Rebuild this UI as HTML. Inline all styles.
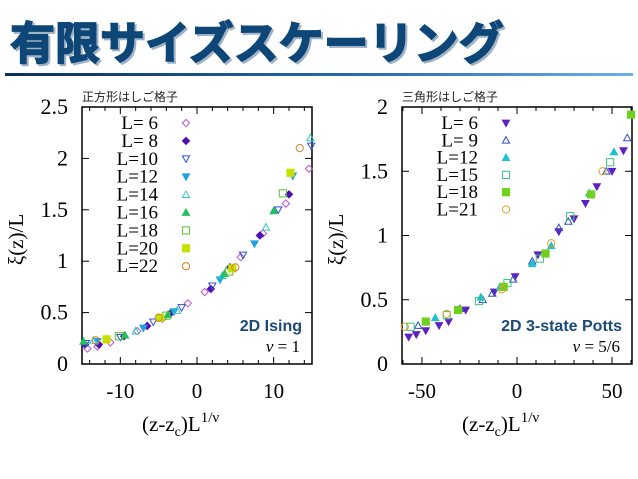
<!DOCTYPE html>
<html><head><meta charset="utf-8"><style>
body{margin:0;background:#fff;width:638px;height:479px;overflow:hidden}
svg{display:block}
</style></head><body>
<svg id="s" width="638" height="479" xmlns="http://www.w3.org/2000/svg">
<defs><linearGradient id="ul" x1="0" x2="1"><stop offset="0" stop-color="#0a2f5c"/><stop offset="0.6" stop-color="#2a70b0"/><stop offset="1" stop-color="#6ab0e8"/></linearGradient></defs>
<text x="12" y="61" font-family="'Liberation Sans','Noto Sans CJK JP',sans-serif" font-weight="bold" font-size="45" fill="#9fb2c6" stroke="#9fb2c6" stroke-width="1.5">有限サイズスケーリング</text>
<text x="10" y="59" font-family="'Liberation Sans','Noto Sans CJK JP',sans-serif" font-weight="bold" font-size="45" fill="#0d4677" stroke="#0d4677" stroke-width="1.5">有限サイズスケーリング</text>
<rect x="5" y="73" width="628" height="3" fill="url(#ul)"/>
</svg>
<script>
// Left chart data (2D Ising)
const leftLabels=["L= 6","L= 8","L=10","L=12","L=14","L=16","L=18","L=20","L=22"];
const L6x=[-14.3,-13,-11.3,-7.8,-4.5,-1.2,1.0,5.7,8.6,11.6,14.6];
const L6y=[0.15,0.17,0.21,0.32,0.44,0.59,0.70,1.04,1.27,1.56,1.9];
const L8x=[-14.6,-12.8,-9.5,-6.5,-3.5,1.8,4.3,8.2,12.0];
const L8y=[0.19,0.19,0.27,0.37,0.49,0.73,0.94,1.25,1.65];
const L10x=[-14.5,-10,-5.7,-2,2,6.0,10.6,14.9];
const L10y=[0.2,0.26,0.41,0.55,0.76,1.06,1.5,2.12];
const L12x=[-13,-7,-3,3,7.5,12.5];
const L12y=[0.22,0.35,0.51,0.82,1.17,1.83];
const L14x=[-13.5,-8,-2.6,3.3,9.0,14.8];
const L14y=[0.23,0.32,0.52,0.86,1.33,2.2];
const L16x=[-14.8,-9.4,-3.8,3.6,10.0];
const L16y=[0.22,0.28,0.48,0.88,1.49];
const L18x=[-10.2,-4.0,4.2,11.2];
const L18y=[0.27,0.47,0.9,1.66];
const L20x=[-11.8,-4.8,4.6,12.2];
const L20y=[0.24,0.45,0.93,1.86];
const L22x=[-13.2,-5.0,5.0,13.4];
const L22y=[0.23,0.45,0.94,2.1];
const leftYTicks=[0,0.5,1,1.5,2,2.5];
const leftXTicks=[-10,0,10];
// Right chart data (2D 3-state Potts)
const rightLabels=["L= 6","L= 9","L=12","L=15","L=18","L=21"];
const P6x=[-57,-53,-48,-41,-36,-27,-12,-1,11,22,30,36,42,50,56];
const P6y=[0.21,0.23,0.26,0.3,0.33,0.42,0.56,0.68,0.85,1.03,1.13,1.25,1.38,1.5,1.66];
const P9x=[-52,-30,-18,-13,-2,8,22,27,47,58];
const P9y=[0.3,0.43,0.5,0.55,0.66,0.8,1.06,1.11,1.5,1.76];
const P12x=[-43,-19,-9,8,18,38,51];
const P12y=[0.36,0.52,0.6,0.78,0.92,1.33,1.65];
const P15x=[-56,-37,-20,-5,12,28,49];
const P15y=[0.29,0.38,0.49,0.63,0.82,1.15,1.57];
const P18x=[-48,-31,-7,15,39,60];
const P18y=[0.33,0.42,0.6,0.86,1.32,1.94];
const P21x=[-59,-37,-8,18,45];
const P21y=[0.29,0.39,0.58,0.94,1.5];
const rightYTicks=[0,0.5,1,1.5,2];
const rightXTicks=[-50,0,50];

const NS="http://www.w3.org/2000/svg";
const svg=document.getElementById('s');
function mk(tag,attrs,parent){const e=document.createElementNS(NS,tag);for(const k in attrs)e.setAttribute(k,attrs[k]);(parent||svg).appendChild(e);return e;}
function marker(g,shape,cx,cy,color){
  const r=3.6;let e;
  const filled=shape.endsWith('F');const base=shape.replace('F','');
  const fill=filled?color:'none';
  if(base==='diamond'){e=mk('polygon',{points:`${cx},${cy-r} ${cx+r},${cy} ${cx},${cy+r} ${cx-r},${cy}`},g);}
  else if(base==='down'){e=mk('polygon',{points:`${cx-r},${cy-r*0.8} ${cx+r},${cy-r*0.8} ${cx},${cy+r}`},g);}
  else if(base==='up'){e=mk('polygon',{points:`${cx-r},${cy+r*0.8} ${cx+r},${cy+r*0.8} ${cx},${cy-r}`},g);}
  else if(base==='square'){e=mk('rect',{x:cx-r,y:cy-r,width:2*r,height:2*r},g);}
  else {e=mk('circle',{cx:cx,cy:cy,r:r},g);}
  e.setAttribute('fill',fill);e.setAttribute('stroke',color);e.setAttribute('stroke-width','1');
  
  
  return e;
}
function chart(cfg){
  const g=mk('g',{});
  
  
  const {x0,x1,y0,y1,xmin,xmax,ymin,ymax}=cfg;
  const sx=v=>x0+(v-xmin)/(xmax-xmin)*(x1-x0);
  const sy=v=>y1-(v-ymin)/(ymax-ymin)*(y1-y0);
  const fr=mk('rect',{x:x0,y:y0,width:x1-x0,height:y1-y0,fill:'none',stroke:'#000','stroke-width':1.5},g);
  
  
  for(let v=Math.ceil(xmin/cfg.minor)*cfg.minor;v<=xmax;v+=cfg.minor){
    const X=sx(v);const major=cfg.xt.includes(v);const L=major?7:4;
    mk('line',{x1:X,x2:X,y1:y1,y2:y1-L,stroke:'#000','stroke-width':1},g);
    mk('line',{x1:X,x2:X,y1:y0,y2:y0+L,stroke:'#000','stroke-width':1},g);
  }
  cfg.xt.forEach(v=>{const t=mk('text',{x:sx(v),y:398,'text-anchor':'middle','font-family':'Liberation Serif,serif','font-size':21},g);t.textContent=v;
    
    });
  cfg.yt.forEach(v=>{const Y=sy(v);
    mk('line',{x1:x0,x2:x0+7,y1:Y,y2:Y,stroke:'#000','stroke-width':1},g);
    mk('line',{x1:x1,x2:x1-7,y1:Y,y2:Y,stroke:'#000','stroke-width':1},g);
    const t=mk('text',{x:x0-14,y:Y+7,'text-anchor':'end','font-family':'Liberation Serif,serif','font-size':22},g);t.textContent=v;
    
    });
  const yt=mk('text',{x:0,y:0,transform:`translate(${x0-59},${(y0+y1)/2+4}) rotate(-90)`,'text-anchor':'middle','font-family':'Liberation Serif,serif','font-size':21},g);
  yt.textContent='ξ(z)/L';
  
  
  const xt=mk('text',{x:(x0+x1)/2-55,y:431,'font-family':'Liberation Serif,serif','font-size':21},g);
  xt.innerHTML='(z-z<tspan dy="5" font-size="14">c</tspan><tspan dy="-5">)L</tspan><tspan dy="-9" font-size="15">1/ν</tspan>';
  
  
  const sub=mk('text',{x:x0,y:101,'font-family':"'Liberation Sans','Noto Sans CJK JP',sans-serif",'font-size':12,fill:'#222'},g);
  sub.textContent=cfg.sub;
  
  
  const mt=mk('text',{x:x1-10,y:y1-33,'text-anchor':'end','font-family':'Liberation Sans,sans-serif','font-weight':'bold','font-size':16,fill:'#1b4a78'},g);
  mt.textContent=cfg.model;
  
  
  const nu=mk('text',{x:x1-12,y:y1-12,'text-anchor':'end','font-family':'Liberation Serif,serif','font-size':17},g);
  nu.innerHTML=cfg.nu;
  
  
  cfg.series.forEach((s,i)=>{
    const sg=mk('g',{},g);
    
    
    s.x.forEach((xv,j)=>marker(sg,s.shape,sx(xv),sy(s.y[j]),s.color));
    const ly=123+i*cfg.lstep;
    const lt=mk('text',{x:cfg.lx,y:ly+6,'text-anchor':'end','font-family':'Liberation Serif,serif','font-size':19},sg);
    lt.textContent=s.label;
    
    
    marker(sg,s.shape,cfg.lx+28,ly,s.color);
  });
}
chart({name:'ising-chart',x0:82,x1:312,y0:107,y1:364,xmin:-15,xmax:15,ymin:0,ymax:2.5,minor:2,xt:leftXTicks,yt:leftYTicks,
 sub:'正方形はしご格子',model:'2D Ising',nu:'<tspan font-style="italic">ν</tspan> = 1',lx:158,lstep:17.9,
 series:[
  {label:leftLabels[0],x:L6x,y:L6y,shape:'diamond',color:'#c050d0'},
  {label:leftLabels[1],x:L8x,y:L8y,shape:'diamondF',color:'#5010b0'},
  {label:leftLabels[2],x:L10x,y:L10y,shape:'down',color:'#3050d0'},
  {label:leftLabels[3],x:L12x,y:L12y,shape:'downF',color:'#20a0e0'},
  {label:leftLabels[4],x:L14x,y:L14y,shape:'up',color:'#30c8b8'},
  {label:leftLabels[5],x:L16x,y:L16y,shape:'upF',color:'#20c060'},
  {label:leftLabels[6],x:L18x,y:L18y,shape:'square',color:'#60c030'},
  {label:leftLabels[7],x:L20x,y:L20y,shape:'squareF',color:'#c8e000'},
  {label:leftLabels[8],x:L22x,y:L22y,shape:'circle',color:'#d08030'}]});
chart({name:'potts-chart',x0:402,x1:632,y0:107,y1:364,xmin:-60.5,xmax:60.5,ymin:0,ymax:2,minor:10,xt:rightXTicks,yt:rightYTicks,
 sub:'三角形はしご格子',model:'2D 3-state Potts',nu:'<tspan font-style="italic">ν</tspan> = 5/6',lx:478,lstep:17.3,
 series:[
  {label:rightLabels[0],x:P6x,y:P6y,shape:'downF',color:'#6020c0'},
  {label:rightLabels[1],x:P9x,y:P9y,shape:'up',color:'#3050c0'},
  {label:rightLabels[2],x:P12x,y:P12y,shape:'upF',color:'#20c0d0'},
  {label:rightLabels[3],x:P15x,y:P15y,shape:'square',color:'#40c080'},
  {label:rightLabels[4],x:P18x,y:P18y,shape:'squareF',color:'#70d020'},
  {label:rightLabels[5],x:P21x,y:P21y,shape:'circle',color:'#e0a030'}]});
</script>
</body></html>
